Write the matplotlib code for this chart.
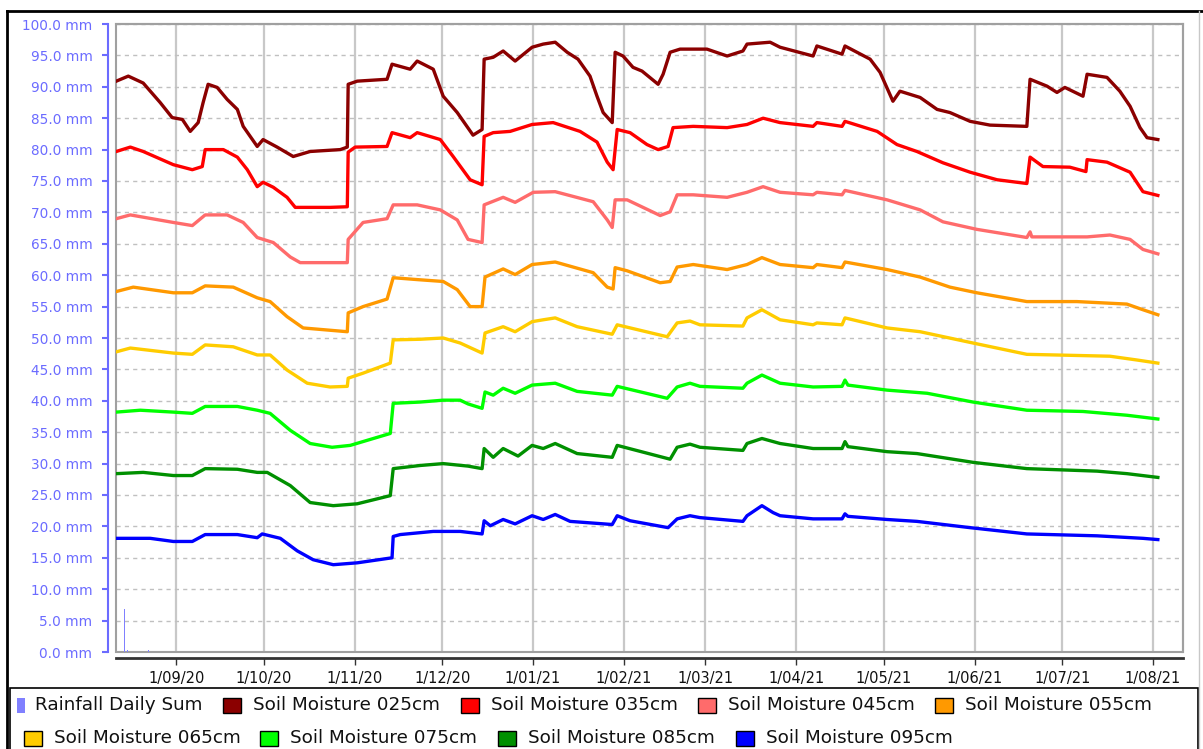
import matplotlib
matplotlib.use('Agg')
import matplotlib.pyplot as plt
import matplotlib.dates as mdates
from matplotlib.patches import Rectangle
from matplotlib.lines import Line2D
from matplotlib.ticker import MultipleLocator, FuncFormatter
from datetime import datetime
import numpy as np

# x values are days since 1 Sep 2020, y values in mm
rainfall = [(-17.8, 6.8), (-16.8, 0.3), (-9.6, 0.3)]

sm025 = [(-20.5, 90.9), (-16.4, 91.7), (-11.3, 90.6), (-5.5, 87.5), (-1.4, 85.1), (2.1, 84.8),
         (4.8, 82.9), (7.5, 84.3), (9.2, 87.5), (10.9, 90.4), (14.0, 89.9), (17.4, 88.0),
         (20.9, 86.4), (22.9, 83.7), (27.7, 80.5), (29.7, 81.6), (34.5, 80.4), (40.0, 78.9),
         (45.8, 79.7), (56.1, 80.0), (58.5, 80.4), (58.8, 90.4), (61.9, 90.9), (72.1, 91.2),
         (73.8, 93.6), (80.0, 92.8), (82.4, 94.1), (87.9, 92.8), (91.3, 88.5), (96.1, 85.9),
         (101.5, 82.3), (104.6, 83.2), (105.3, 94.4), (108.4, 94.7), (111.8, 95.7), (115.9, 94.1),
         (121.7, 96.3), (125.5, 96.8), (129.6, 97.1), (133.7, 95.5), (137.4, 94.4), (141.5, 91.7),
         (143.9, 88.5), (146.0, 85.9), (149.1, 84.3), (150.1, 95.5), (152.8, 94.9), (156.2, 93.1),
         (159.3, 92.5), (164.8, 90.4), (166.5, 92.0), (168.9, 95.5), (172.3, 96.0), (181.5, 96.0),
         (188.4, 94.9), (193.8, 95.7), (195.2, 96.8), (203.1, 97.1), (206.5, 96.3), (217.8, 94.9),
         (219.1, 96.5), (227.7, 95.2), (228.7, 96.5), (237.3, 94.4), (240.7, 92.3), (245.1, 87.7),
         (247.5, 89.3), (254.4, 88.3), (260.2, 86.4), (264.6, 85.9), (271.5, 84.5), (278.3, 83.9),
         (290.9, 83.7), (292.0, 91.2), (297.8, 90.1), (301.2, 89.1), (303.9, 89.9), (310.1, 88.5),
         (311.5, 92.0), (318.3, 91.5), (322.7, 89.3), (326.2, 86.9), (329.6, 83.5), (332.0, 81.9),
         (335.7, 81.6)]

sm035 = [(-20.5, 79.7), (-15.7, 80.4), (-11.3, 79.7), (-1.0, 77.6), (5.5, 76.8), (8.9, 77.3),
         (9.9, 80.0), (16.1, 80.0), (20.9, 78.8), (24.3, 76.8), (27.7, 74.1), (29.7, 74.8),
         (33.2, 74.0), (37.9, 72.4), (40.7, 70.8), (52.6, 70.8), (58.5, 70.9), (58.8, 79.6),
         (61.2, 80.4), (72.1, 80.5), (73.8, 82.7), (80.0, 81.9), (82.4, 82.7), (90.3, 81.6),
         (94.7, 78.9), (100.5, 75.2), (104.6, 74.4), (105.3, 82.1), (108.4, 82.7), (114.2, 82.9),
         (121.7, 84.0), (128.9, 84.3), (138.1, 82.9), (143.9, 81.2), (147.4, 78.0), (149.4, 76.8),
         (150.8, 83.2), (155.2, 82.7), (161.0, 80.8), (164.8, 80.0), (168.2, 80.5), (169.9, 83.5),
         (176.8, 83.7), (188.4, 83.5), (195.2, 84.0), (200.7, 85.0), (206.5, 84.3), (217.8, 83.7),
         (219.1, 84.3), (227.7, 83.7), (228.7, 84.5), (239.7, 82.9), (246.5, 80.8), (253.3, 79.7),
         (262.2, 77.9), (271.5, 76.4), (280.7, 75.2), (290.9, 74.6), (292.0, 78.8), (296.4, 77.3),
         (305.6, 77.2), (311.1, 76.5), (311.5, 78.4), (318.3, 78.0), (326.2, 76.4), (330.6, 73.3),
         (335.7, 72.7)]

sm045 = [(-20.5, 69.0), (-15.7, 69.6), (-1.0, 68.4), (5.5, 67.9), (9.9, 69.6), (17.4, 69.6),
         (22.9, 68.4), (27.7, 66.0), (33.2, 65.2), (39.0, 62.9), (42.4, 62.0), (58.5, 62.0),
         (58.8, 65.7), (63.9, 68.4), (72.1, 69.0), (74.2, 71.2), (82.4, 71.2), (90.3, 70.4),
         (96.1, 68.8), (99.8, 65.7), (104.6, 65.2), (105.3, 71.2), (111.8, 72.4), (115.9, 71.6),
         (122.1, 73.2), (129.6, 73.3), (142.6, 71.7), (147.4, 68.8), (149.1, 67.6), (150.1, 72.0),
         (154.2, 72.0), (165.5, 69.5), (168.9, 70.1), (171.3, 72.8), (176.8, 72.8), (188.4, 72.4),
         (195.2, 73.2), (200.7, 74.1), (206.5, 73.2), (217.8, 72.8), (219.1, 73.2), (227.7, 72.8),
         (228.7, 73.5), (243.1, 72.0), (254.4, 70.4), (262.2, 68.5), (273.8, 67.3), (290.9, 66.0),
         (292.0, 66.9), (292.6, 66.1), (311.5, 66.1), (319.3, 66.4), (326.2, 65.7), (330.6, 64.1),
         (335.7, 63.4)]

sm055 = [(-20.5, 57.4), (-14.7, 58.1), (-1.0, 57.2), (5.5, 57.2), (9.9, 58.3), (19.5, 58.1),
         (27.7, 56.4), (32.1, 55.8), (37.9, 53.4), (43.4, 51.6), (58.5, 51.0), (58.8, 54.0),
         (63.9, 55.0), (72.1, 56.2), (74.2, 59.6), (82.4, 59.3), (91.3, 59.0), (96.1, 57.7),
         (100.5, 55.0), (104.6, 55.0), (105.6, 59.7), (111.8, 61.0), (115.9, 60.1), (121.7, 61.7),
         (129.6, 62.1), (142.6, 60.4), (147.4, 58.1), (149.4, 57.8), (150.1, 61.2), (154.2, 60.7),
         (165.5, 58.8), (168.9, 59.0), (171.3, 61.3), (176.8, 61.7), (188.4, 60.9), (195.2, 61.7),
         (200.3, 62.8), (206.5, 61.7), (217.8, 61.2), (219.1, 61.7), (227.7, 61.2), (228.7, 62.1),
         (243.1, 60.9), (254.4, 59.7), (264.6, 58.1), (273.8, 57.2), (290.9, 55.8), (308.0, 55.8),
         (325.1, 55.4), (330.6, 54.5), (335.7, 53.7)]

sm065 = [(-20.5, 47.8), (-15.7, 48.4), (-1.0, 47.6), (5.5, 47.4), (9.9, 48.9), (19.5, 48.6),
         (27.7, 47.3), (32.1, 47.3), (37.9, 44.9), (44.8, 42.8), (52.6, 42.2), (58.5, 42.3),
         (58.8, 43.6), (63.9, 44.4), (73.2, 46.0), (74.2, 49.7), (83.4, 49.8), (91.3, 50.0),
         (97.1, 49.2), (104.6, 47.6), (105.6, 50.8), (111.8, 51.8), (115.9, 51.0), (121.7, 52.6),
         (125.5, 52.9), (129.6, 53.2), (137.1, 51.8), (149.1, 50.6), (150.8, 52.1), (167.9, 50.2),
         (171.3, 52.4), (175.7, 52.7), (179.1, 52.1), (193.8, 51.9), (195.2, 53.2), (200.3, 54.5),
         (206.5, 52.9), (217.8, 52.1), (219.1, 52.4), (227.7, 52.1), (228.7, 53.2), (243.1, 51.6),
         (254.4, 51.0), (272.5, 49.2), (290.9, 47.4), (319.3, 47.1), (328.5, 46.5), (335.7, 46.0)]

sm075 = [(-20.5, 38.2), (-12.3, 38.5), (-1.0, 38.2), (5.5, 38.0), (9.9, 39.1), (20.9, 39.1),
         (27.7, 38.5), (32.1, 38.0), (39.0, 35.3), (45.8, 33.2), (53.3, 32.6), (59.5, 32.9),
         (73.2, 34.8), (74.2, 39.6), (83.4, 39.8), (91.3, 40.1), (97.1, 40.1), (99.8, 39.5),
         (104.6, 38.8), (105.6, 41.4), (108.4, 40.9), (111.8, 42.0), (115.9, 41.2), (121.7, 42.5),
         (129.6, 42.8), (137.1, 41.5), (149.1, 40.9), (150.8, 42.3), (167.9, 40.4), (171.3, 42.2),
         (175.7, 42.8), (179.1, 42.3), (193.8, 42.0), (195.2, 42.8), (200.3, 44.1), (206.5, 42.8),
         (217.8, 42.2), (227.7, 42.3), (228.7, 43.3), (229.7, 42.5), (243.1, 41.7), (256.8, 41.2),
         (272.5, 39.8), (290.9, 38.5), (310.1, 38.3), (325.1, 37.7), (335.7, 37.1)]

sm085 = [(-20.5, 28.4), (-11.3, 28.6), (-1.0, 28.1), (5.5, 28.1), (9.9, 29.2), (20.9, 29.1),
         (27.7, 28.6), (31.1, 28.6), (39.0, 26.5), (45.8, 23.8), (53.7, 23.3), (61.9, 23.6),
         (73.2, 24.9), (74.2, 29.2), (83.4, 29.7), (91.3, 30.0), (99.8, 29.6), (104.6, 29.2),
         (105.3, 32.4), (108.4, 31.0), (111.8, 32.4), (116.9, 31.2), (121.7, 32.9), (125.5, 32.4),
         (129.6, 33.2), (137.1, 31.6), (149.1, 31.0), (150.8, 32.9), (168.9, 30.7), (171.3, 32.6),
         (175.7, 33.1), (179.1, 32.6), (193.8, 32.1), (195.2, 33.2), (200.3, 34.0), (206.5, 33.2),
         (217.8, 32.4), (227.7, 32.4), (228.7, 33.5), (229.7, 32.7), (243.1, 31.9), (253.3, 31.6),
         (272.5, 30.2), (290.9, 29.2), (314.9, 28.8), (325.1, 28.4), (335.7, 27.8)]

sm095 = [(-20.5, 18.1), (-8.9, 18.1), (-1.0, 17.6), (5.5, 17.6), (9.9, 18.7), (20.9, 18.7),
         (27.7, 18.2), (29.4, 18.8), (35.6, 18.1), (41.4, 16.1), (46.8, 14.7), (53.7, 13.9),
         (61.9, 14.2), (73.8, 15.0), (74.2, 18.4), (76.6, 18.7), (87.9, 19.2), (97.1, 19.2),
         (104.6, 18.8), (105.3, 20.9), (107.4, 20.1), (111.8, 21.1), (115.9, 20.4), (121.7, 21.7),
         (125.5, 21.1), (129.6, 21.9), (134.7, 20.8), (149.1, 20.3), (150.8, 21.7), (155.2, 20.9),
         (168.2, 19.8), (171.3, 21.2), (175.7, 21.7), (179.1, 21.4), (193.8, 20.8), (195.2, 21.7),
         (200.3, 23.3), (204.1, 22.2), (206.5, 21.7), (217.8, 21.2), (227.7, 21.2), (228.7, 22.0),
         (229.7, 21.6), (243.1, 21.1), (253.3, 20.8), (271.5, 19.8), (290.9, 18.8), (314.9, 18.5),
         (330.6, 18.1), (335.7, 17.9)]

names = ['Soil Moisture 025cm', 'Soil Moisture 035cm', 'Soil Moisture 045cm', 'Soil Moisture 055cm',
         'Soil Moisture 065cm', 'Soil Moisture 075cm', 'Soil Moisture 085cm', 'Soil Moisture 095cm']
colors = ['#8b0000', '#ff0000', '#ff6b6b', '#ff9900', '#ffcc00', '#00ff00', '#009000', '#0000ff']
series = [sm025, sm035, sm045, sm055, sm065, sm075, sm085, sm095]
rain_color = '#8080ff'

W, H = 1203, 749
fig = plt.figure(figsize=(W / 100, H / 100), dpi=100)
ax = fig.add_axes([116 / W, 1 - 652 / H, (1183 - 116) / W, (652 - 24) / H])

t0 = mdates.date2num(datetime(2020, 9, 1))

rain = np.array(rainfall)
ax.bar(t0 + rain[:, 0], rain[:, 1], width=0.35, color=rain_color, zorder=3)

for data, color in zip(series, colors):
    d = np.array(data)
    ax.plot(t0 + d[:, 0], d[:, 1], color=color, lw=2.4, zorder=4)

ax.set_xlim(t0 - 20.6, t0 + 344.3)
ax.set_ylim(0, 100)
ax.yaxis.set_major_locator(MultipleLocator(5))
ax.yaxis.set_major_formatter(FuncFormatter(lambda v, p: f'{v:.1f} mm'))
ax.xaxis.set_major_locator(mdates.MonthLocator())


def date_fmt(x, p):
    d = mdates.num2date(x)
    return f'{d.day}/{d:%m/%y}'


ax.xaxis.set_major_formatter(FuncFormatter(date_fmt))

ax.yaxis.grid(True, ls=(0, (3, 3)), color='#c0c0c0', lw=1)
ax.xaxis.grid(True, color='#c8c8c8', lw=1.6)
ax.set_axisbelow(True)

blue = '#6b6bff'
ax.spines['left'].set_position(('outward', 6))
ax.spines['left'].set_color(blue)
ax.spines['left'].set_linewidth(1.5)
ax.spines['bottom'].set_position(('outward', 4.5))
ax.spines['bottom'].set_color('#333333')
ax.spines['bottom'].set_linewidth(2)
for s in ['top', 'right']:
    ax.spines[s].set_color('#a0a0a0')
    ax.spines[s].set_linewidth(1.5)
ax.add_patch(Rectangle((0, 0), 1, 1, transform=ax.transAxes, fill=False,
                       ec='#a0a0a0', lw=1.5, clip_on=False, zorder=2))

ax.tick_params(axis='y', colors=blue, length=4, width=1.5, labelsize=9.8, pad=7)
ax.tick_params(axis='x', color='#333333', labelcolor='#111111', length=5, width=1,
               labelsize=10.5, pad=4)

# outer frame
fig.add_artist(Line2D([7 / W, 7 / W], [1 - 11 / H, 0], color='black', lw=2))
fig.add_artist(Line2D([7 / W, 1202 / W], [1 - 11 / H, 1 - 11 / H], color='black', lw=2))
fig.add_artist(Line2D([1199 / W, 1199 / W], [1 - 11 / H, 0], color='#c8c8c8', lw=1))

# legend box
fig.add_artist(Rectangle((10 / W, -0.01), (1198 - 10) / W, (749 - 688) / H + 0.01,
                         transform=fig.transFigure, fc='white', ec='black', lw=1.2))
slots = [(17, 705), (223, 705), (461, 705), (698, 705), (935, 705),
         (24, 738), (260, 738), (498, 738), (736, 738)]
labels = ['Rainfall Daily Sum'] + names
swatches = [rain_color] + colors
for i, ((sx, sy), lab, col) in enumerate(zip(slots, labels, swatches)):
    if i == 0:
        fig.add_artist(Rectangle((sx / W, 1 - (sy + 8) / H), 8 / W, 15 / H,
                                 transform=fig.transFigure, fc=col, ec='none'))
        tx = sx + 18
    else:
        fig.add_artist(Rectangle((sx / W, 1 - (sy + 8) / H), 18 / W, 15 / H,
                                 transform=fig.transFigure, fc=col, ec='black', lw=1))
        tx = sx + 30
    fig.text(tx / W, 1 - sy / H, lab, fontsize=13.2, color='#111111', va='center', ha='left')

fig.savefig('out.png', dpi=100)
